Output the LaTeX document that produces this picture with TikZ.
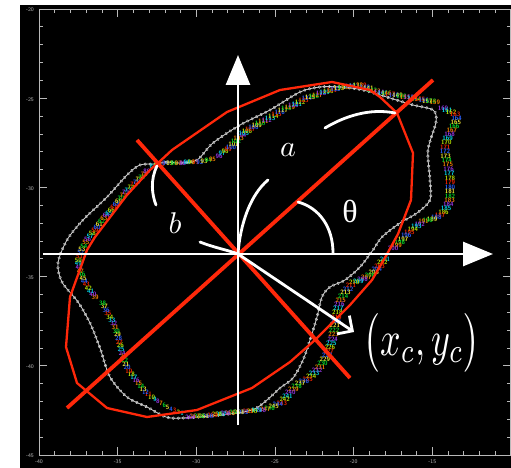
\documentclass[tikz,border=0pt]{standalone}
\usepackage{fontspec}
\usepackage{tikz}
\usetikzlibrary{arrows.meta,decorations.markings}
\newfontfamily\greekfont{Liberation Serif}
\definecolor{fitred}{RGB}{255,40,10}
\definecolor{trackgray}{RGB}{205,205,205}
\definecolor{framegray}{RGB}{185,185,185}
\definecolor{numc0}{RGB}{0,215,40}
\definecolor{numc1}{RGB}{245,130,0}
\definecolor{numc2}{RGB}{150,55,230}
\definecolor{numc3}{RGB}{0,215,235}
\definecolor{numc4}{RGB}{185,230,0}
\definecolor{numc5}{RGB}{245,35,0}
\definecolor{numc6}{RGB}{40,95,255}
\definecolor{numc7}{RGB}{240,230,50}
% numbered run of boundary points: first, last, spacing, path
\newcount\runcount
\newcommand{\labelrun}[4]{%
  \global\runcount=#1\relax
  \path[postaction={decorate}, decoration={markings,
      mark=between positions 0 and 1 step #3 with {%
        \ifnum\runcount>#2\relax\else
          \pgfmathtruncatemacro\ci{mod(\runcount+2,8)}%
          \node[runlabel, text=numc\ci] {\the\runcount};%
        \fi
        \global\advance\runcount by 1\relax}}]
    plot coordinates {#4};}

\begin{document}
\begin{tikzpicture}[x=1pt, y=-1pt,
    fitline/.style={draw=fitred, line width=2.3pt, line join=miter},
    axisline/.style={draw=fitred, line width=3.8pt},
    whiteaxis/.style={draw=white, line width=2.8pt, -{Triangle[length=30pt,width=24pt]}},
    whitearc/.style={draw=white, line width=2.8pt, line cap=round},
    runlabel/.style={font=\fontsize{6.3}{6.3}\sffamily\bfseries, inner sep=0pt},
    ticklabel/.style={font=\fontsize{5.5}{6}\sffamily, text=framegray, inner sep=0pt},
    biglabel/.style={text=white, inner sep=0pt}
]
\fill[white] (0,0) rectangle (511,468);
\fill[black] (20,5) rectangle (511,468);
\useasboundingbox (0,0) rectangle (511,468);

% plot frame and ticks
\draw[framegray, line width=0.7pt] (39,9) rectangle (510.5,455);
\foreach \k in {0,...,30}{
  \pgfmathsetmacro\tx{39+15.733*\k}
  \pgfmathsetmacro\tl{ifthenelse(mod(\k,5)==0,8,4)}
  \draw[framegray, line width=0.7pt] (\tx,455) -- ++(0,-\tl) (\tx,9) -- ++(0,\tl);
}
\foreach \k in {0,...,25}{
  \pgfmathsetmacro\ty{9+17.84*\k}
  \pgfmathsetmacro\tl{ifthenelse(mod(\k,5)==0,8,4)}
  \draw[framegray, line width=0.7pt] (39,\ty) -- ++(\tl,0) (510.5,\ty) -- ++(-\tl,0);
}
\foreach \v [count=\i from 0] in {-40,-35,...,-15}
  \node[ticklabel] (xl\i) at (39+78.67*\i,462) {\v};
\foreach \v [count=\i from 0] in {-20,-25,...,-45}
  \node[ticklabel] (yl\i) at (30,10+89.2*\i) {\v};

% measured boundary
\draw[trackgray, line width=0.8pt,
  decoration={markings, mark=between positions 0 and 1 step 5pt with {\draw[trackgray, line width=0.5pt] (0,0) circle (1.3pt);}},
  postaction={decorate}]
  plot[smooth cycle, tension=0.5] coordinates {(155,164) (167,162) (180,163) (197,160) (213,143) (240,125)
  (270,110) (300,92) (320,87) (340,87) (363,90) (390,98) (413,105) (433,110) (436,122) (428,150)
  (430,180) (430,200) (417,213) (400,223) (382,237) (373,250) (360,267) (345,280) (330,287) (322,297)
  (317,317) (310,340) (303,360) (293,378) (280,388) (267,400) (252,410) (220,415) (183,418) (166,417)
  (147,407) (127,397) (110,377) (100,348) (90,323) (78,302) (62,282) (58,263) (67,240) (83,220)
  (107,197) (127,175) (140,165)};
\labelrun{1}{38}{3.85pt}{(182,413) (170,409) (156,400) (146,393) (137,381) (128,370) (122,353) (118,336) (114,324) (107,312) (102,302)}
\labelrun{39}{80}{3.77pt}{(95,297) (85,283) (79,267) (78,261) (82,249) (88,239) (97,228) (106,216) (116,205) (127,191) (137,182) (148,170)}
\labelrun{81}{95}{4.3pt}{(153,166) (165,163) (180,163) (200,162) (213,159)}
\labelrun{96}{159}{3.78pt}{(219,156) (230,148) (237,140) (245,132) (257,125) (270,118) (283,110) (297,104) (310,97) (327,92) (340,88) (360,85) (377,92) (393,95) (405,97) (423,100) (437,103)}
\labelrun{160}{200}{4.5pt}{(443,108) (455,114) (457,119) (455,125) (448,137) (445,148) (445,154) (448,165) (450,177) (450,199) (448,206) (443,213) (438,217) (422,222) (410,232) (398,244) (392,249)}
\labelrun{201}{264}{4.43pt}{(385,259) (375,272) (362,280) (353,283) (347,290) (340,301) (338,310) (335,324) (333,338) (327,356) (320,367) (310,378) (298,385) (290,393) (282,403) (267,409) (253,411) (230,413) (207,416) (187,417)}

% fitted ellipse
\draw[fitline] (158,163) -- (172,150) -- (227,112) -- (280,90) -- (332,82) -- (370,90) -- (380,97)
  -- (397,113) -- (413,153) -- (411,200) -- (398,234) -- (386,256) -- (372,280) -- (350,305)
  -- (315,340) -- (290,362) -- (252,388) -- (197,410) -- (147,417) -- (107,408) -- (77,383)
  -- (66,347) -- (70,297) -- (87,250) -- (95,237) -- (127,195) -- (150,170) -- cycle;

% axes of the ellipse
\coordinate (O) at (238,254);
\coordinate (majA) at (67,408);
\coordinate (majB) at (433,80);
\coordinate (minA) at (137,140);
\coordinate (minB) at (350,378);
\draw[axisline] (majA) -- (majB);
\draw[axisline] (minA) -- (minB);

% reference frame
\coordinate (xstart) at (43,254);
\coordinate (xtip) at (493,254);
\coordinate (ystart) at (238,425);
\coordinate (ytip) at (238,55);
\coordinate (ctip) at (354,332);
\draw[whiteaxis] (xstart) -- (xtip);
\draw[whiteaxis] (ystart) -- (ytip);
\draw[draw=white, line width=2.8pt, -{Straight Barb[length=11pt,width=22pt]}] (O) -- (ctip);

% arcs
\draw[whitearc] (298,202) .. controls (320,208) and (333,228) .. (333,253);
\draw[whitearc] (O) .. controls (240,225) and (250,195) .. (268,180);
\draw[whitearc] (325,128) .. controls (345,116) and (370,108) .. (395,113);
\draw[whitearc] (200,242) .. controls (215,248) and (228,250) .. (O);
\draw[whitearc] (157,166) .. controls (150,180) and (152,195) .. (156,205);

% labels
\node[biglabel, scale=3] (alabel) at (288,150) {$a$};
\node[biglabel, scale=3] (blabel) at (175,223) {$b$};
\node[biglabel, font=\fontsize{32}{32}\greekfont] (thlabel) at (350,211) {θ};
\node[biglabel, xscale=3.6, yscale=4.9] (cxy) at (422,343) {$\bigl(x_c,y_c\bigr)$};
\end{tikzpicture}
\end{document}
